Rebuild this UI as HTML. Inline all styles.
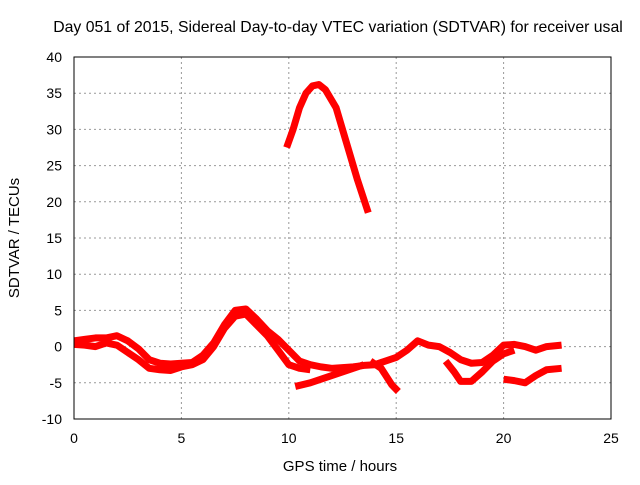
<!DOCTYPE html>
<html><head><meta charset="utf-8"><style>
body{margin:0;background:#fff}
svg text{font-family:"Liberation Sans",sans-serif;font-size:14px;fill:#000}
</style></head><body>
<svg id="chart" width="640" height="480">
<text x="338" y="32" text-anchor="middle" style="font-size:15.8px">Day 051 of 2015, Sidereal Day-to-day VTEC variation (SDTVAR) for receiver usal</text>
<text x="340" y="471" text-anchor="middle" style="font-size:15px">GPS time / hours</text>
<text transform="translate(19,238) rotate(-90)" text-anchor="middle" style="font-size:15px">SDTVAR / TECUs</text>
<g id="grid"></g><g id="series"></g>
<rect x="74" y="57" width="537" height="362" fill="none" stroke="#000" stroke-width="1"/>
</svg>
<script>
const xTicks=[0,5,10,15,20,25];
const yTicks=[-10,-5,0,5,10,15,20,25,30,35,40];
const s1x=[0,0.5,1,1.5,2,2.5,3,3.5,4,4.5,5,5.5,6,6.5,7,7.5,8,8.5,9,9.5,10,10.5,11,11.5,12,12.5,13,13.5,14,14.5,15,15.5,16,16.5,17,17.5,18,18.5,19,19.5,20,20.5,21,21.5,22,22.7];
const s1y=[0.8,1,1.2,1.2,1.5,0.8,-0.3,-1.8,-2.3,-2.4,-2.3,-2.2,-1.2,0.5,3,5,5.2,3.8,2.2,1,-0.5,-2,-2.5,-2.8,-3,-2.9,-2.8,-2.6,-2.5,-2,-1.5,-0.5,0.8,0.2,0,-0.8,-1.8,-2.3,-2.2,-1.2,0.2,0.3,0,-0.5,0,0.2];
const s2x=[0,0.5,1,1.5,2,2.5,3,3.5,4,4.5,5,5.5,6,6.5,7,7.5,8,8.5,9,9.5,10,10.5,11];
const s2y=[0.3,0.2,0,0.5,0.2,-0.8,-1.8,-3,-3.2,-3.3,-2.8,-2.5,-1.8,0,2.5,4.2,4.5,3,1.5,-0.5,-2.5,-3,-3.2];
const s3x=[9.9,10.2,10.5,10.8,11.1,11.4,11.7,12.2,12.7,13.2,13.7];
const s3y=[27.5,30,33,35,36,36.2,35.5,33,28,23,18.5];
const s4x=[10.3,11,12,13,13.5];
const s4y=[-5.5,-5,-4,-3,-2.5];
const s5x=[13.8,14.3,14.8,15.1];
const s5y=[-2,-3,-5.3,-6.2];
const s6x=[17.3,17.7,18,18.5,19,19.5,20,20.5];
const s6y=[-2,-3.5,-4.8,-4.8,-3.5,-2,-1,-0.5];
const s7x=[20,20.5,21,21.5,22,22.7];
const s7y=[-4.5,-4.7,-5,-4,-3.2,-3];
const X=v=>74+v*537/25, Y=v=>419-(v+10)*362/50;
const NS="http://www.w3.org/2000/svg";
const g=document.getElementById('grid'), sg=document.getElementById('series'), svg=document.getElementById('chart');
xTicks.forEach(t=>{
 const l=document.createElementNS(NS,'line');
 
 
 l.setAttribute('x1',X(t));l.setAttribute('x2',X(t));l.setAttribute('y1',57);l.setAttribute('y2',419);
 l.setAttribute('stroke',(t>0&&t<25)?'#999':'none');l.setAttribute('stroke-dasharray','2,3');g.appendChild(l);
 const k=document.createElementNS(NS,'text');
 
 
 k.setAttribute('x',X(t));k.setAttribute('y',443);k.setAttribute('text-anchor','middle');k.textContent=t;svg.appendChild(k);
});
yTicks.forEach(t=>{
 const l=document.createElementNS(NS,'line');
 
 
 l.setAttribute('x1',74);l.setAttribute('x2',611);l.setAttribute('y1',Y(t));l.setAttribute('y2',Y(t));
 l.setAttribute('stroke',(t>-10&&t<40)?'#999':'none');l.setAttribute('stroke-dasharray','2,3');g.appendChild(l);
 const k=document.createElementNS(NS,'text');
 
 
 k.setAttribute('x',62);k.setAttribute('y',Y(t)+5);k.setAttribute('text-anchor','end');k.textContent=t;svg.appendChild(k);
});
[[s1x,s1y],[s2x,s2y],[s3x,s3y],[s4x,s4y],[s5x,s5y],[s6x,s6y],[s7x,s7y]].forEach(([xs,ys])=>{
 const p=document.createElementNS(NS,'polyline');
 
 
 p.setAttribute('points',xs.map((x,i)=>X(x)+','+Y(ys[i])).join(' '));
 p.setAttribute('fill','none');p.setAttribute('stroke','#f00');p.setAttribute('stroke-width','7');p.setAttribute('stroke-linejoin','round');
 sg.appendChild(p);
});
</script>
</body></html>
